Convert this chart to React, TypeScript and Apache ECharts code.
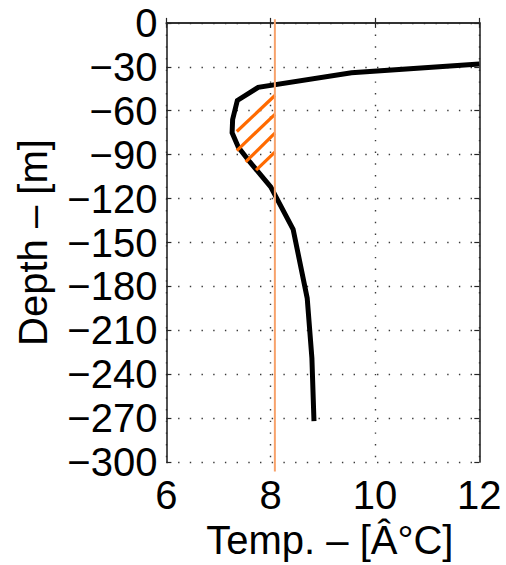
import React, { useEffect, useRef } from "react";
import * as echarts from "echarts";

// Temperature profile (°C) versus depth (m)
const temps = [12.0, 9.55, 7.76, 7.36, 7.27, 7.26, 7.38, 7.6, 8.0, 8.43, 8.7, 8.79, 8.83];
const depths = [-28, -34, -44, -53, -66, -75, -85, -95, -112, -141, -188, -229, -272];

// Reference temperature line
const refTemp = 8.08;
const refDepthTop = 2.5;
const refDepthBottom = -306.5;

// Hatch segments: start on the curve, end on the reference line
const hatchStartT = [7.35, 7.35, 7.52, 7.72];
const hatchStartD = [-74.2, -87.2, -95.0, -100.6];
const hatchEndD = [-49.6, -62.5, -75.3, -88.3];

const xMin = 6;
const xMax = 12;
const xStep = 2;
const yMin = -300;
const yMax = 0;
const yStep = 30;

const xName = "Temp. – [Â°C]";
const yName = "Depth – [m]";

const FONT = "Liberation Sans";

export default function App() {
  const ref = useRef<HTMLDivElement>(null);
  useEffect(() => {
    document.body.style.margin = "0";
    const chart = echarts.init(ref.current!, null, { renderer: "svg" });
    const axisLine = { show: true, lineStyle: { color: "#262626", width: 1.6 } };
    const axisTick = { show: true, inside: true, length: 5, lineStyle: { color: "#262626", width: 1.2 } };
    const split = { show: true, lineStyle: { type: [1.4, 10.3], color: "#3a3a3a", width: 1.4 } };
    const option: any = {
      animation: false,
      backgroundColor: "#ffffff",
      textStyle: { fontFamily: FONT },
      grid: { left: 166.4, right: 26.7, top: 22.9, bottom: 96, containLabel: false },
      xAxis: [
        {
          type: "value", min: xMin, max: xMax, interval: xStep, position: "bottom",
          axisLine, axisTick,
          axisLabel: { fontSize: 40, color: "#000", margin: 13, fontFamily: FONT },
          splitLine: split,
          name: xName, nameLocation: "middle", nameGap: 51,
          nameTextStyle: { fontSize: 40, color: "#000", fontFamily: FONT, padding: [0, 0, 0, 14] },
        },
        {
          type: "value", min: xMin, max: xMax, interval: xStep, position: "top",
          axisLine, axisTick, axisLabel: { show: false }, splitLine: { show: false },
        },
      ],
      yAxis: [
        {
          type: "value", min: yMin, max: yMax, interval: yStep, position: "left",
          axisLine, axisTick,
          axisLabel: {
            fontSize: 40, color: "#000", margin: 9, fontFamily: FONT,
            formatter: (v: number) => (v === 0 ? "0" : (v < 0 ? "\u2212" : "") + Math.abs(v)),
          },
          splitLine: split,
          name: yName, nameLocation: "middle", nameGap: 113, nameRotate: 90,
          nameTextStyle: { fontSize: 40, color: "#000", fontFamily: FONT },
        },
        {
          type: "value", min: yMin, max: yMax, interval: yStep, position: "right",
          axisLine, axisTick, axisLabel: { show: false }, splitLine: { show: false },
        },
      ],
      series: [
        {
          type: "line",
          data: temps.map((t, i) => [t, depths[i]]),
          symbol: "none",
          lineStyle: { color: "#000", width: 5, join: "miter" },
          z: 3,
        },
        {
          type: "lines",
          coordinateSystem: "cartesian2d",
          data: hatchStartT.map((t, i) => ({
            coords: [[t, hatchStartD[i]], [refTemp, hatchEndD[i]]],
          })),
          lineStyle: { color: "#ff6a00", width: 3.2, opacity: 1, curveness: 0 },
          z: 4,
        },
        {
          type: "line",
          data: [[refTemp, refDepthTop], [refTemp, refDepthBottom]],
          clip: false,
          symbol: "none",
          lineStyle: { color: "#f7a26b", width: 2 },
          z: 5,
        },
      ],
    };
    chart.setOption(option);
    return () => chart.dispose();
  }, []);
  return <div ref={ref} style={{ width: 506, height: 565 }} />;
}
